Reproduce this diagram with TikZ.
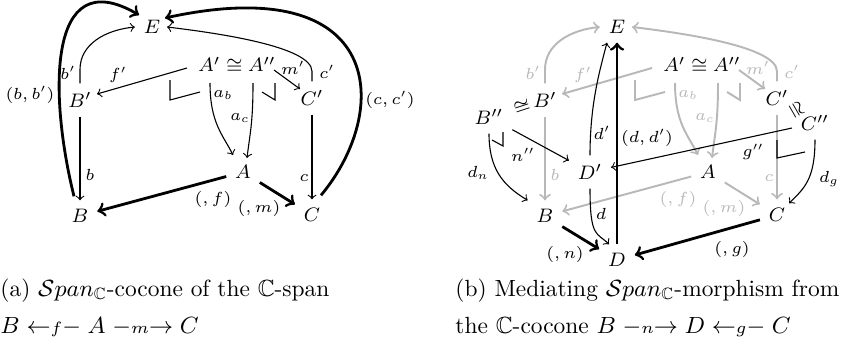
\RequirePackage{fix-cm}
\documentclass[tikz,border=0pt]{standalone}
\usepackage{amssymb}
\usetikzlibrary{calc}
\begin{document}
\begin{tikzpicture}[x=0.41pt,y=-0.41pt,
  obj/.style={inner sep=3.5pt, font=\fontsize{8}{9.5}\selectfont},
  lab/.style={inner sep=0pt, font=\fontsize{6.6}{8}\selectfont},
  glab/.style={lab, text=black!28},
  tarr/.style={->, line width=0.45pt},
  karr/.style={->, line width=1.15pt},
  garr/.style={->, line width=0.8pt, draw=black!28},
  gline/.style={line width=0.8pt, draw=black!28},
  pbcorner/.style={line width=0.45pt},
  captxt/.style={anchor=base west, inner sep=0pt, font=\fontsize{9.6}{11.5}\selectfont}]
\useasboundingbox (0,0) rectangle (850,340);

% ---------------- (a) ----------------
\node[obj] (aE) at (152,27) {$E$};
\node[obj] (aBp) at (80,100) {$B'$};
\node[obj] (aApr) at (237,65) {$A'\cong A''$};
\node[obj] (aCp) at (312,98) {$C'$};
\node[obj] (aA) at (243,172) {$A$};
\node[obj] (aB) at (80,216) {$B$};
\node[obj] (aC) at (312,215) {$C$};

\draw[tarr] (aBp.north) -- ++(0,-14) .. controls +(0,-25) and +(-30,3) .. (aE.west);
\draw[tarr] ($(aApr.center)+(-50,3)$) -- ($(aBp.center)+(17,-6)$);
\draw[tarr] ($(aApr.center)+(37,5)$) -- ($(aCp.center)+(-12,-9)$);
\draw[tarr] ($(aApr.center)+(-27,18)$) .. controls +(0,40) and +(-10,-20) .. ($(aA.center)+(-10,-17)$);
\draw[tarr] ($(aApr.center)+(16,18)$) .. controls +(0,40) and +(3,-25) .. ($(aA.center)+(4,-14)$);
\draw[pbcorner] (170,80) -- (170,100) -- (200,92);
\draw[pbcorner] (262,92) -- (275,100) -- (275,83);
\draw[tarr] (aBp) -- (aB);
\draw[tarr] (aCp) -- (aC);
\draw[tarr] (aCp.north) -- ++(0,-10) .. controls +(0,-25) and +(50,6) .. ($(aE.center)+(15,0)$);
\draw[karr] ($(aB.north)+(-6,-4)$) .. controls (50,100) and (45,-40) .. ($(aE.center)+(-13,-12)$);
\draw[karr] ($(aC.north)+(9,-4)$) .. controls (392,110) and (385,-30) .. ($(aE.center)+(13,-9)$);
\draw[karr] (aA) -- (aB);
\draw[karr] (aA) -- (aC);

\node[lab] at (68,73) {$b'$};
\node[lab] at (118,75) {$f'$};
\node[lab] at (30,95) {$(b,b')$};
\node[lab] at (293,68) {$m'$};
\node[lab] at (327,72) {$c'$};
\node[lab] at (390,100) {$(c,c')$};
\node[lab] at (223,95) {$a_b$};
\node[lab] at (240,118) {$a_c$};
\node[lab] at (90,175) {$b$};
\node[lab] at (304,178) {$c$};
\node[lab] at (213,199) {$(,f)$};
\node[lab] at (259,208) {$(,m)$};

% ---------------- (b) ----------------
\node[obj] (bE) at (617,27) {$E$};
\node[obj] (bBp) at (545,100) {$B'$};
\node[obj] (bApr) at (702,65) {$A'\cong A''$};
\node[obj] (bCp) at (777,98) {$C'$};
\node[obj] (bA) at (708,172) {$A$};
\node[obj] (bB) at (545,216) {$B$};
\node[obj] (bC) at (777,215) {$C$};
\node[obj] (bBpp) at (489,117) {$B''$};
\node[obj, rotate=18] (bcong1) at (522,107) {$\cong$};
\node[obj] (bCpp) at (815,123) {$C''$};
\node[obj, rotate=-60] (bcong2) at (796,110) {$\cong$};
\node[obj] (bDp) at (590,172) {$D'$};
\node[obj] (bD) at (617,260) {$D$};

% grey copy of (a)
\draw[garr] (bBp.north) -- ++(0,-14) .. controls +(0,-25) and +(-30,3) .. (bE.west);
\draw[garr] ($(bApr.center)+(-50,3)$) -- ($(bBp.center)+(17,-6)$);
\draw[garr] ($(bApr.center)+(37,5)$) -- ($(bCp.center)+(-12,-9)$);
\draw[garr] ($(bApr.center)+(-27,18)$) .. controls +(0,40) and +(-10,-20) .. ($(bA.center)+(-10,-17)$);
\draw[garr] ($(bApr.center)+(16,18)$) .. controls +(0,40) and +(3,-25) .. ($(bA.center)+(4,-14)$);
\draw[gline] (635,80) -- (635,100) -- (665,92);
\draw[gline] (727,92) -- (740,100) -- (740,83);
\draw[garr] (bBp) -- (bB);
\draw[garr] (bCp) -- (bC);
\draw[garr] (bCp.north) -- ++(0,-10) .. controls +(0,-25) and +(50,6) .. ($(bE.center)+(15,0)$);
\draw[garr] (bA) -- (bB);
\draw[garr] (bA) -- (bC);

\node[glab] at (533,73) {$b'$};
\node[glab] at (583,75) {$f'$};
\node[glab] at (758,68) {$m'$};
\node[glab] at (792,72) {$c'$};
\node[glab] at (688,95) {$a_b$};
\node[glab] at (705,118) {$a_c$};
\node[glab] at (555,175) {$b$};
\node[glab] at (769,178) {$c$};
\node[glab] at (678,199) {$(,f)$};
\node[glab] at (724,208) {$(,m)$};

% new black parts
\draw[karr] (bD) -- (bE);
\draw[tarr] (bDp.north) .. controls +(0,-50) and +(-8,30) .. ($(bE.south)+(-10,0)$);
\draw[tarr] (bDp.south) .. controls +(0,50) and +(-12,-12) .. ($(bD.north)+(-8,0)$);
\draw[tarr] (bBpp) -- (bDp);
\draw[tarr] (bCpp) -- (bDp);
\draw[tarr] (bBpp.south) .. controls +(0,35) and +(-25,-15) .. (bB.north west);
\draw[tarr] (bCpp.south) .. controls +(0,40) and +(15,-15) .. ($(bC.north east)+(-5,4)$);
\draw[pbcorner] (492,140) -- (503,146) -- (503,132);
\draw[pbcorner] (777,140) -- (777,158) -- (805,152);
\draw[karr] (bB) -- (bD);
\draw[karr] (bC) -- (bD);

\node[lab] at (647,138) {$(d,d')$};
\node[lab] at (602,133) {$d'$};
\node[lab] at (601,214) {$d$};
\node[lab] at (523,155) {$n''$};
\node[lab] at (753,152) {$g''$};
\node[lab] at (478,173) {$d_n$};
\node[lab] at (829,179) {$d_g$};
\node[lab] at (565,254) {$(,n)$};
\node[lab] at (732,249) {$(,g)$};

% captions
\node[captxt] (capa1) at (0,296) {(a) $\mathcal{S}pan_{\mathbb{C}}$-cocone of the $\mathbb{C}$-span};
\node[captxt] (capa2) at (0,333) {$B \mathrel{{\leftarrow}{\scriptstyle f}{-}} A \mathrel{{-}{\scriptstyle m}{\rightarrow}} C$};
\node[captxt] (capb1) at (455,296) {(b) Mediating $\mathcal{S}pan_{\mathbb{C}}$-morphism from};
\node[captxt] (capb2) at (455,333) {the $\mathbb{C}$-cocone $B \mathrel{{-}{\scriptstyle n}{\rightarrow}} D \mathrel{{\leftarrow}{\scriptstyle g}{-}} C$};
\end{tikzpicture}
\end{document}
